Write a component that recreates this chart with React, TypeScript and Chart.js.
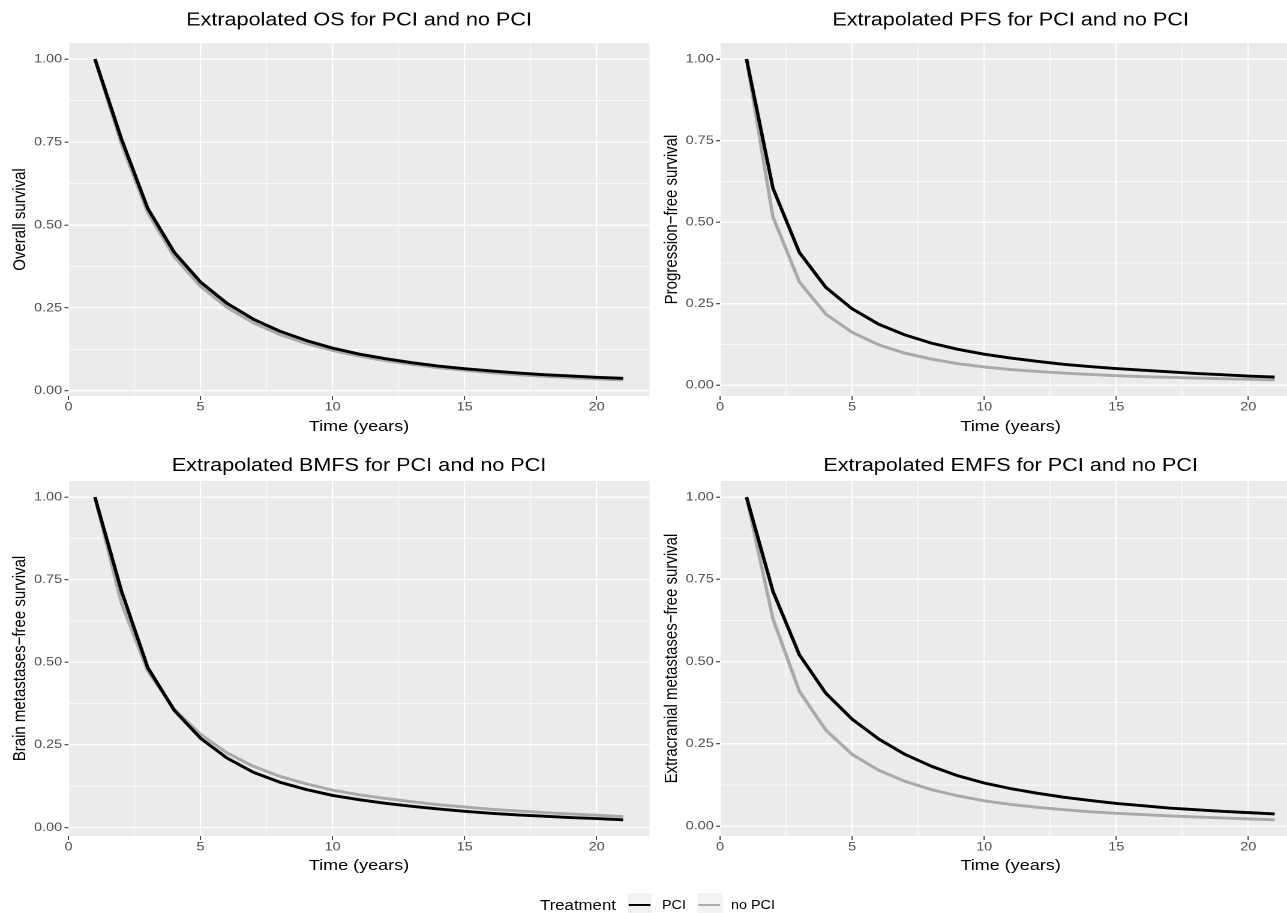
import React, { useEffect, useRef } from 'react';
import { Chart, registerables } from 'chart.js';

Chart.register(...registerables);

// ---------- data ----------
const years = [1, 2, 3, 4, 5, 6, 7, 8, 9, 10, 11, 12, 13, 14, 15, 16, 17, 18, 19, 20, 21];

const osPCI = [1.0, 0.76, 0.55, 0.418, 0.328, 0.264, 0.216, 0.18, 0.152, 0.129, 0.111, 0.097, 0.085, 0.075, 0.067, 0.06, 0.054, 0.049, 0.045, 0.041, 0.038];
const osNoPCI = [1.0, 0.745, 0.537, 0.405, 0.315, 0.252, 0.205, 0.17, 0.143, 0.122, 0.105, 0.091, 0.08, 0.07, 0.062, 0.055, 0.049, 0.044, 0.04, 0.036, 0.033];

const pfsPCI = [1.0, 0.604, 0.407, 0.3, 0.234, 0.187, 0.154, 0.129, 0.11, 0.095, 0.083, 0.073, 0.064, 0.057, 0.051, 0.046, 0.041, 0.036, 0.032, 0.028, 0.025];
const pfsNoPCI = [1.0, 0.516, 0.317, 0.218, 0.162, 0.124, 0.098, 0.08, 0.066, 0.056, 0.048, 0.042, 0.037, 0.033, 0.029, 0.026, 0.024, 0.022, 0.02, 0.018, 0.016];

const bmfsPCI = [1.0, 0.717, 0.484, 0.355, 0.27, 0.21, 0.167, 0.137, 0.115, 0.097, 0.084, 0.073, 0.064, 0.056, 0.049, 0.043, 0.038, 0.034, 0.03, 0.027, 0.023];
const bmfsNoPCI = [1.0, 0.68, 0.474, 0.358, 0.282, 0.226, 0.185, 0.155, 0.132, 0.113, 0.099, 0.088, 0.078, 0.069, 0.062, 0.055, 0.05, 0.045, 0.041, 0.037, 0.033];

const emfsPCI = [1.0, 0.714, 0.521, 0.404, 0.325, 0.265, 0.218, 0.182, 0.153, 0.131, 0.114, 0.1, 0.088, 0.078, 0.069, 0.062, 0.055, 0.05, 0.045, 0.041, 0.037];
const emfsNoPCI = [1.0, 0.63, 0.41, 0.292, 0.218, 0.17, 0.136, 0.111, 0.092, 0.077, 0.066, 0.057, 0.05, 0.044, 0.039, 0.035, 0.031, 0.028, 0.025, 0.022, 0.019];

const xMajorTicks = [0, 5, 10, 15, 20];
const xMinorTicks = [2.5, 7.5, 12.5, 17.5];
const yMajorTicks = [0, 0.25, 0.5, 0.75, 1];
const yMinorTicks = [0.125, 0.375, 0.625, 0.875];

const seriesNames = ['PCI', 'no PCI'];
const seriesColors = ['#000000', '#A9A9A9'];
const legendTitle = 'Treatment';
const xAxisTitle = 'Time (years)';

// ---------- layout (final pixel positions, divided by the horizontal stretch) ----------
const SX = 1.2; // horizontal stretch of the reference figure
const FONT = "'Liberation Sans', Arial, Helvetica, sans-serif";
const TITLE_SIZE = 18;
const AXIS_TITLE_SIZE = 15;
const TICK_SIZE = 12;
const CANVAS_W = 547;
const CANVAS_H = 440;
const Y_AXIS_W = 68.5 / SX;
const X_AXIS_H = 44;
const RIGHT_PAD = CANVAS_W - 649.5 / SX;
const RIGHT_COL_LEFT = 651 / SX;
const Y_TITLE_PAD = 20 / SX - (AXIS_TITLE_SIZE * 1.2) / 2;

type PanelSpec = {
  title: string;
  yLabel: string;
  pci: number[];
  noPci: number[];
  left: number;
  top: number;
  chartTop: number;
  titleY: number;
  xTitlePadBottom: number;
};

const panels: PanelSpec[] = [
  { title: 'Extrapolated OS for PCI and no PCI', yLabel: 'Overall survival', pci: osPCI, noPci: osNoPCI, left: 0, top: 0, chartTop: 43, titleY: 20.5, xTitlePadBottom: 4 },
  { title: 'Extrapolated PFS for PCI and no PCI', yLabel: 'Progression\u2212free survival', pci: pfsPCI, noPci: pfsNoPCI, left: RIGHT_COL_LEFT, top: 0, chartTop: 43, titleY: 20.5, xTitlePadBottom: 4 },
  { title: 'Extrapolated BMFS for PCI and no PCI', yLabel: 'Brain metastases\u2212free survival', pci: bmfsPCI, noPci: bmfsNoPCI, left: 0, top: 440, chartTop: 41, titleY: 26, xTitlePadBottom: 5 },
  { title: 'Extrapolated EMFS for PCI and no PCI', yLabel: 'Extracranial metastases\u2212free survival', pci: emfsPCI, noPci: emfsNoPCI, left: RIGHT_COL_LEFT, top: 440, chartTop: 41, titleY: 26, xTitlePadBottom: 5 },
];

const panelDecor = {
  id: 'panelDecor',
  beforeDraw(chart: any) {
    const { ctx, chartArea } = chart;
    ctx.save();
    ctx.fillStyle = '#EBEBEB';
    ctx.fillRect(chartArea.left, chartArea.top, chartArea.right - chartArea.left, chartArea.bottom - chartArea.top);
    ctx.restore();
  },
  afterDraw(chart: any, _args: any, opts: any) {
    const { ctx, chartArea } = chart;
    ctx.save();
    ctx.fillStyle = '#000000';
    ctx.font = `${TITLE_SIZE}px ${FONT}`;
    ctx.textAlign = 'center';
    ctx.textBaseline = 'middle';
    ctx.fillText(opts.title, (chartArea.left + chartArea.right) / 2, opts.titleY);
    ctx.restore();
  },
};

function Panel({ spec }: { spec: PanelSpec }) {
  const ref = useRef<HTMLCanvasElement | null>(null);
  useEffect(() => {
    if (!ref.current) return;
    const all = [...spec.pci, ...spec.noPci];
    const dmin = Math.min(...all);
    const dmax = Math.max(...all);
    const pad = (dmax - dmin) * 0.05;
    const isXMajor = (v: number) => xMajorTicks.includes(v);
    const isYMajor = (v: number) => yMajorTicks.includes(v);
    const makeDataset = (label: string, vals: number[], color: string) => ({
      label,
      data: years.map((x, i) => ({ x, y: vals[i] })),
      borderColor: color,
      borderWidth: 2.9,
      pointRadius: 0,
      tension: 0,
      fill: false,
      borderJoinStyle: 'round',
    });
    const chart = new Chart(ref.current, {
      type: 'line',
      data: {
        datasets: [
          makeDataset(seriesNames[0], spec.pci, seriesColors[0]),
          makeDataset(seriesNames[1], spec.noPci, seriesColors[1]),
        ],
      },
      options: {
        responsive: false,
        animation: false,
        devicePixelRatio: 2,
        layout: { padding: { top: spec.chartTop, left: 0, right: RIGHT_PAD, bottom: 0 } },
        plugins: {
          legend: { display: false },
          tooltip: { enabled: false },
          title: { display: false },
          panelDecor: { title: spec.title, titleY: spec.titleY },
        } as any,
        scales: {
          x: {
            type: 'linear',
            min: 0,
            max: 22,
            afterBuildTicks: (s: any) => {
              s.ticks = [...xMajorTicks, ...xMinorTicks].sort((a, b) => a - b).map((v) => ({ value: v }));
            },
            afterFit: (s: any) => {
              s.height = X_AXIS_H;
            },
            border: { display: false },
            grid: {
              color: '#FFFFFF',
              lineWidth: (c: any) => (c.tick && isXMajor(c.tick.value) ? 1.4 / SX : 0.7 / SX),
              drawTicks: true,
              tickLength: 4,
              tickColor: (c: any) => (c.tick && isXMajor(c.tick.value) ? '#333333' : 'rgba(0,0,0,0)'),
              tickWidth: 1.1 / SX,
            },
            ticks: {
              autoSkip: false,
              maxRotation: 0,
              padding: 0,
              color: '#4D4D4D',
              font: { family: FONT, size: TICK_SIZE },
              callback: (v: any) => (isXMajor(Number(v)) ? String(v) : ''),
            },
            title: {
              display: true,
              text: xAxisTitle,
              color: '#000000',
              font: { family: FONT, size: AXIS_TITLE_SIZE },
              padding: { top: 0, bottom: spec.xTitlePadBottom },
            },
          },
          y: {
            type: 'linear',
            min: dmin - pad,
            max: dmax + pad,
            afterBuildTicks: (s: any) => {
              s.ticks = [...yMajorTicks, ...yMinorTicks].sort((a, b) => a - b).map((v) => ({ value: v }));
            },
            afterFit: (s: any) => {
              s.width = Y_AXIS_W;
            },
            border: { display: false },
            grid: {
              color: '#FFFFFF',
              lineWidth: (c: any) => (c.tick && isYMajor(c.tick.value) ? 1.4 : 0.7),
              drawTicks: true,
              tickLength: 4 / SX,
              tickColor: (c: any) => (c.tick && isYMajor(c.tick.value) ? '#333333' : 'rgba(0,0,0,0)'),
              tickWidth: 1.1,
            },
            ticks: {
              autoSkip: false,
              padding: 2,
              color: '#4D4D4D',
              font: { family: FONT, size: TICK_SIZE },
              callback: (v: any) => (isYMajor(Number(v)) ? Number(v).toFixed(2) : ''),
            },
            title: {
              display: true,
              text: spec.yLabel,
              color: '#000000',
              font: { family: FONT, size: AXIS_TITLE_SIZE },
              padding: { top: Y_TITLE_PAD, bottom: 0 },
            },
          },
        },
      } as any,
      plugins: [panelDecor],
    } as any);
    return () => chart.destroy();
  }, [spec]);

  return (
    <canvas
      ref={ref}
      width={CANVAS_W}
      height={CANVAS_H}
      style={{ position: 'absolute', left: spec.left, top: spec.top }}
    />
  );
}

function LegendKey({ left, color }: { left: number; color: string }) {
  return (
    <div style={{ position: 'absolute', left, top: 893, width: 25 / SX, height: 24, background: '#F2F2F2' }}>
      <div style={{ position: 'absolute', left: 2 / SX, right: 2 / SX, top: 10.5, height: 2.9, background: color }} />
    </div>
  );
}

export default function App() {
  useEffect(() => {
    document.body.style.margin = '0';
  }, []);
  const textStyle = (left: number, size: number): React.CSSProperties => ({
    position: 'absolute',
    left,
    top: 905,
    transform: 'translateY(-50%)',
    fontFamily: FONT,
    fontSize: size,
    lineHeight: 1,
    color: '#000000',
    whiteSpace: 'nowrap',
  });
  return (
    <div style={{ position: 'absolute', left: 0, top: 0, width: 1287, height: 913, overflow: 'hidden', background: '#FFFFFF' }}>
      <div
        style={{
          position: 'absolute',
          left: 0,
          top: 0,
          width: 1320 / SX,
          height: 913,
          transform: `scaleX(${SX})`,
          transformOrigin: '0 0',
        }}
      >
        {panels.map((p, i) => (
          <Panel key={i} spec={p} />
        ))}
        <div style={textStyle(540 / SX, 14)}>{legendTitle}</div>
        <LegendKey left={627 / SX} color={seriesColors[0]} />
        <div style={textStyle(662 / SX, TICK_SIZE)}>{seriesNames[0]}</div>
        <LegendKey left={697 / SX} color={seriesColors[1]} />
        <div style={textStyle(731 / SX, TICK_SIZE)}>{seriesNames[1]}</div>
      </div>
    </div>
  );
}
